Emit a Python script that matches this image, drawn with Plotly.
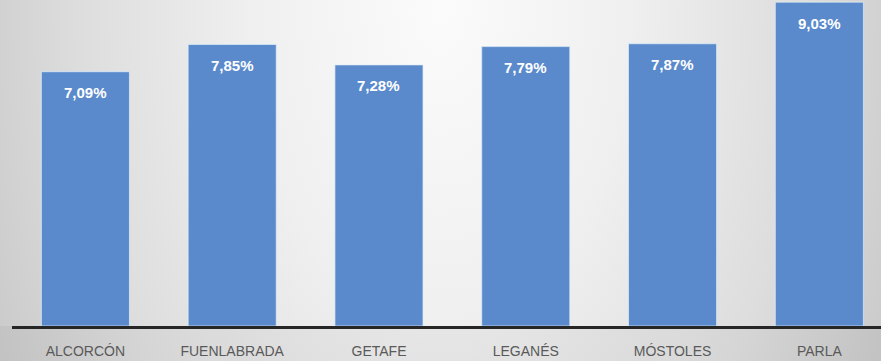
import base64
import plotly.graph_objects as go

categories = ["ALCORCÓN", "FUENLABRADA", "GETAFE", "LEGANÉS", "MÓSTOLES", "PARLA"]
values = [7.09, 7.85, 7.28, 7.79, 7.87, 9.03]

W, H = 881, 361
ML, MR, MT, MB = 12, 0, 0, 35

svg = f"""<svg xmlns='http://www.w3.org/2000/svg' width='{W}' height='{H}' preserveAspectRatio='none' viewBox='0 0 {W} {H}'>
<defs><radialGradient id='g' cx='0.5' cy='0.02' r='0.55' gradientTransform='translate(0.5,0.02) scale(1,4) translate(-0.5,-0.02)'>
<stop offset='0' stop-color='#fbfbfb'/>
<stop offset='0.4' stop-color='#efefef'/>
<stop offset='0.75' stop-color='#dddddd'/>
<stop offset='1' stop-color='#cbcbcb'/>
</radialGradient></defs>
<rect width='{W}' height='{H}' fill='url(#g)'/>
<rect x='0' y='{H - MB}' width='{W}' height='{MB}' fill='rgba(0,0,0,0.035)'/></svg>"""
src = "data:image/svg+xml;base64," + base64.b64encode(svg.encode("utf-8")).decode()

pw = W - ML - MR
ph = H - MT - MB

fig = go.Figure()
fig.add_trace(go.Bar(
    x=categories, y=values,
    marker=dict(color="#5a8acb", line=dict(width=1, color="rgba(225,238,250,0.7)")),
    hoverinfo="skip",
))

for c, v in zip(categories, values):
    fig.add_annotation(
        x=c, y=v, xref="x", yref="y",
        text=f"{v:.2f}".replace(".", ",") + "%",
        showarrow=False, yanchor="middle", yshift=-21,
        font=dict(family="Liberation Sans, Arial, sans-serif", size=15, color="white", weight="bold"),
    )

fig.add_layout_image(dict(
    source=src, xref="paper", yref="paper",
    x=-ML / pw, y=1 + MT / ph, sizex=W / pw, sizey=H / ph,
    xanchor="left", yanchor="top", sizing="stretch", layer="below",
))

fig.update_layout(
    width=W, height=H,
    margin=dict(l=ML, r=MR, t=MT, b=MB, pad=0),
    paper_bgcolor="#d6d6d6",
    plot_bgcolor="rgba(0,0,0,0)",
    bargap=0.4,
    showlegend=False,
    xaxis=dict(
        range=[-0.5, 5.42], showgrid=False, zeroline=False,
        showline=True, linecolor="#262626", linewidth=3,
        ticks="", ticklabelstandoff=10,
        tickfont=dict(family="Liberation Sans, Arial, sans-serif", size=14, color="#595959"),
        fixedrange=True,
    ),
    yaxis=dict(range=[0, 9.09], visible=False, showgrid=False, zeroline=False, fixedrange=True),
)

fig.write_html(
    "out.html",
    config={"displayModeBar": False},
    post_script="document.body.style.margin='0';document.body.style.overflow='hidden';",
)
